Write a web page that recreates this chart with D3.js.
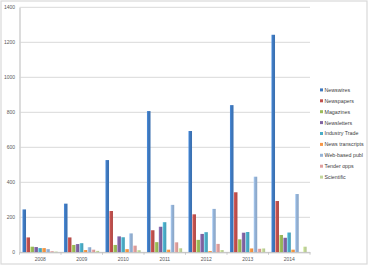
<!DOCTYPE html>
<html>
<head>
<meta charset="utf-8">
<script src="https://cdn.jsdelivr.net/npm/d3@7"></script>
<style>
  html, body { margin: 0; padding: 0; background: #fff; }
  svg { display: block; font-family: 'Liberation Sans', Arial, sans-serif; }
</style>
</head>
<body>
<div id="chart"></div>
<script>
// Data
var years = ['2008', '2009', '2010', '2011', '2012', '2013', '2014']
var seriesNames = ['Newswires', 'Newspapers', 'Magazines', 'Newsletters', 'Industry Trade',
                   'News transcripts', 'Web-based publ', 'Tender opps', 'Scientific']
var newswires       = [245, 278, 527, 807, 693, 841, 1243]
var newspapers      = [85, 85, 236, 126, 217, 343, 293]
var magazines       = [32, 42, 42, 58, 71, 74, 99]
var newsletters     = [30, 47, 91, 146, 105, 112, 83]
var industryTrade   = [24, 52, 86, 172, 115, 116, 113]
var newsTranscripts = [24, 13, 18, 15, 7, 22, 15]
var webBased        = [18, 29, 108, 271, 248, 432, 333]
var tenderOpps      = [6, 15, 38, 57, 48, 20, 0]
var scientific      = [4, 8, 12, 23, 13, 22, 32]
var yTicks = [0, 200, 400, 600, 800, 1000, 1200, 1400]

var values = [newswires, newspapers, magazines, newsletters, industryTrade,
              newsTranscripts, webBased, tenderOpps, scientific]
var colors = ['#3f79bf', '#c0504d', '#9bbb59', '#8064a2', '#4bacc6',
              '#f79646', '#95b3d7', '#e0a09e', '#c3d69b']

var width = 369, height = 266
var margin = { left: 19.5, right: 310, top: 7.3, bottom: 252.3 }

var svg = d3.select('#chart').append('svg')
  .attr('width', width)
  .attr('height', height)

// outer frame
svg.append('rect')
  .attr('x', 1).attr('y', 1)
  .attr('width', 366).attr('height', 263)
  .attr('fill', '#fff')
  .attr('stroke', '#d9d9d9')
  .attr('stroke-width', 1.2)

var defs = svg.append('defs')
colors.forEach(function (c, i) {
  var g = defs.append('linearGradient')
    .attr('id', 'grad' + i)
    .attr('x1', '0%').attr('x2', '100%')
    .attr('y1', '0%').attr('y2', '0%')
  g.append('stop').attr('offset', '0%').attr('stop-color', d3.color(c).brighter(0.5))
  g.append('stop').attr('offset', '35%').attr('stop-color', c)
  g.append('stop').attr('offset', '100%').attr('stop-color', d3.color(c).darker(0.25))
})

var x = d3.scaleBand()
  .domain(years)
  .range([margin.left, margin.right])

var xInner = d3.scaleBand()
  .domain(d3.range(seriesNames.length))
  .range([0, x.bandwidth()])
  .paddingInner(0)
  .paddingOuter(0.75)

var y = d3.scaleLinear()
  .domain([0, 1400])
  .range([margin.bottom, margin.top])

// gridlines
svg.append('g')
  .selectAll('line')
  .data(yTicks)
  .join('line')
  .attr('x1', margin.left)
  .attr('x2', margin.right)
  .attr('y1', function (d) { return y(d) })
  .attr('y2', function (d) { return y(d) })
  .attr('stroke', '#d9d9d9')
  .attr('stroke-width', 1)

// y axis labels
var yAxis = svg.append('g')
  .attr('transform', 'translate(' + margin.left + ',0)')
  .call(d3.axisLeft(y).tickValues(yTicks).tickFormat(d3.format('d')).tickSize(0).tickPadding(4.5))
yAxis.select('.domain')
  .attr('stroke', '#d4d4d4')
  .attr('stroke-width', 1.6)
yAxis.selectAll('text')
  .attr('font-size', '5px')
  .attr('fill', '#595959')

// bars
var groups = svg.append('g')
  .selectAll('g')
  .data(values)
  .join('g')
  .attr('fill', function (d, i) { return 'url(#grad' + i + ')' })

groups.selectAll('rect')
  .data(function (d, i) {
    return d.map(function (v, j) { return { s: i, year: years[j], value: v } })
  })
  .join('rect')
  .attr('x', function (d) { return x(d.year) + xInner(d.s) })
  .attr('width', xInner.bandwidth() - 0.4)
  .attr('y', function (d) { return y(d.value) })
  .attr('height', function (d) { return y(0) - y(d.value) })

// x axis
var xAxis = svg.append('g')
  .attr('transform', 'translate(0,' + margin.bottom + ')')
  .call(d3.axisBottom(x).tickSize(0).tickPadding(5))
xAxis.select('.domain')
  .attr('stroke', '#bfbfbf')
  .attr('stroke-width', 1)
xAxis.selectAll('text')
  .attr('font-size', '5px')
  .attr('fill', '#595959')

// tick marks between categories
svg.append('g')
  .selectAll('line')
  .data(years.concat(['end']))
  .join('line')
  .attr('x1', function (d, i) { return margin.left + i * x.step() })
  .attr('x2', function (d, i) { return margin.left + i * x.step() })
  .attr('y1', margin.bottom)
  .attr('y2', margin.bottom + 2.5)
  .attr('stroke', '#bfbfbf')
  .attr('stroke-width', 0.8)

// legend
var legend = svg.append('g')
  .selectAll('g')
  .data(seriesNames)
  .join('g')
  .attr('transform', function (d, i) { return 'translate(320,' + (90 + i * 10.9) + ')' })

legend.append('rect')
  .attr('x', 0).attr('y', -1.6)
  .attr('width', 3).attr('height', 3)
  .attr('fill', function (d, i) { return colors[i] })

legend.append('text')
  .attr('x', 4.5)
  .attr('y', 0)
  .attr('dy', '0.35em')
  .attr('font-size', '5.3px')
  .attr('fill', '#404040')
  .text(function (d) { return d })
</script>
</body>
</html>
